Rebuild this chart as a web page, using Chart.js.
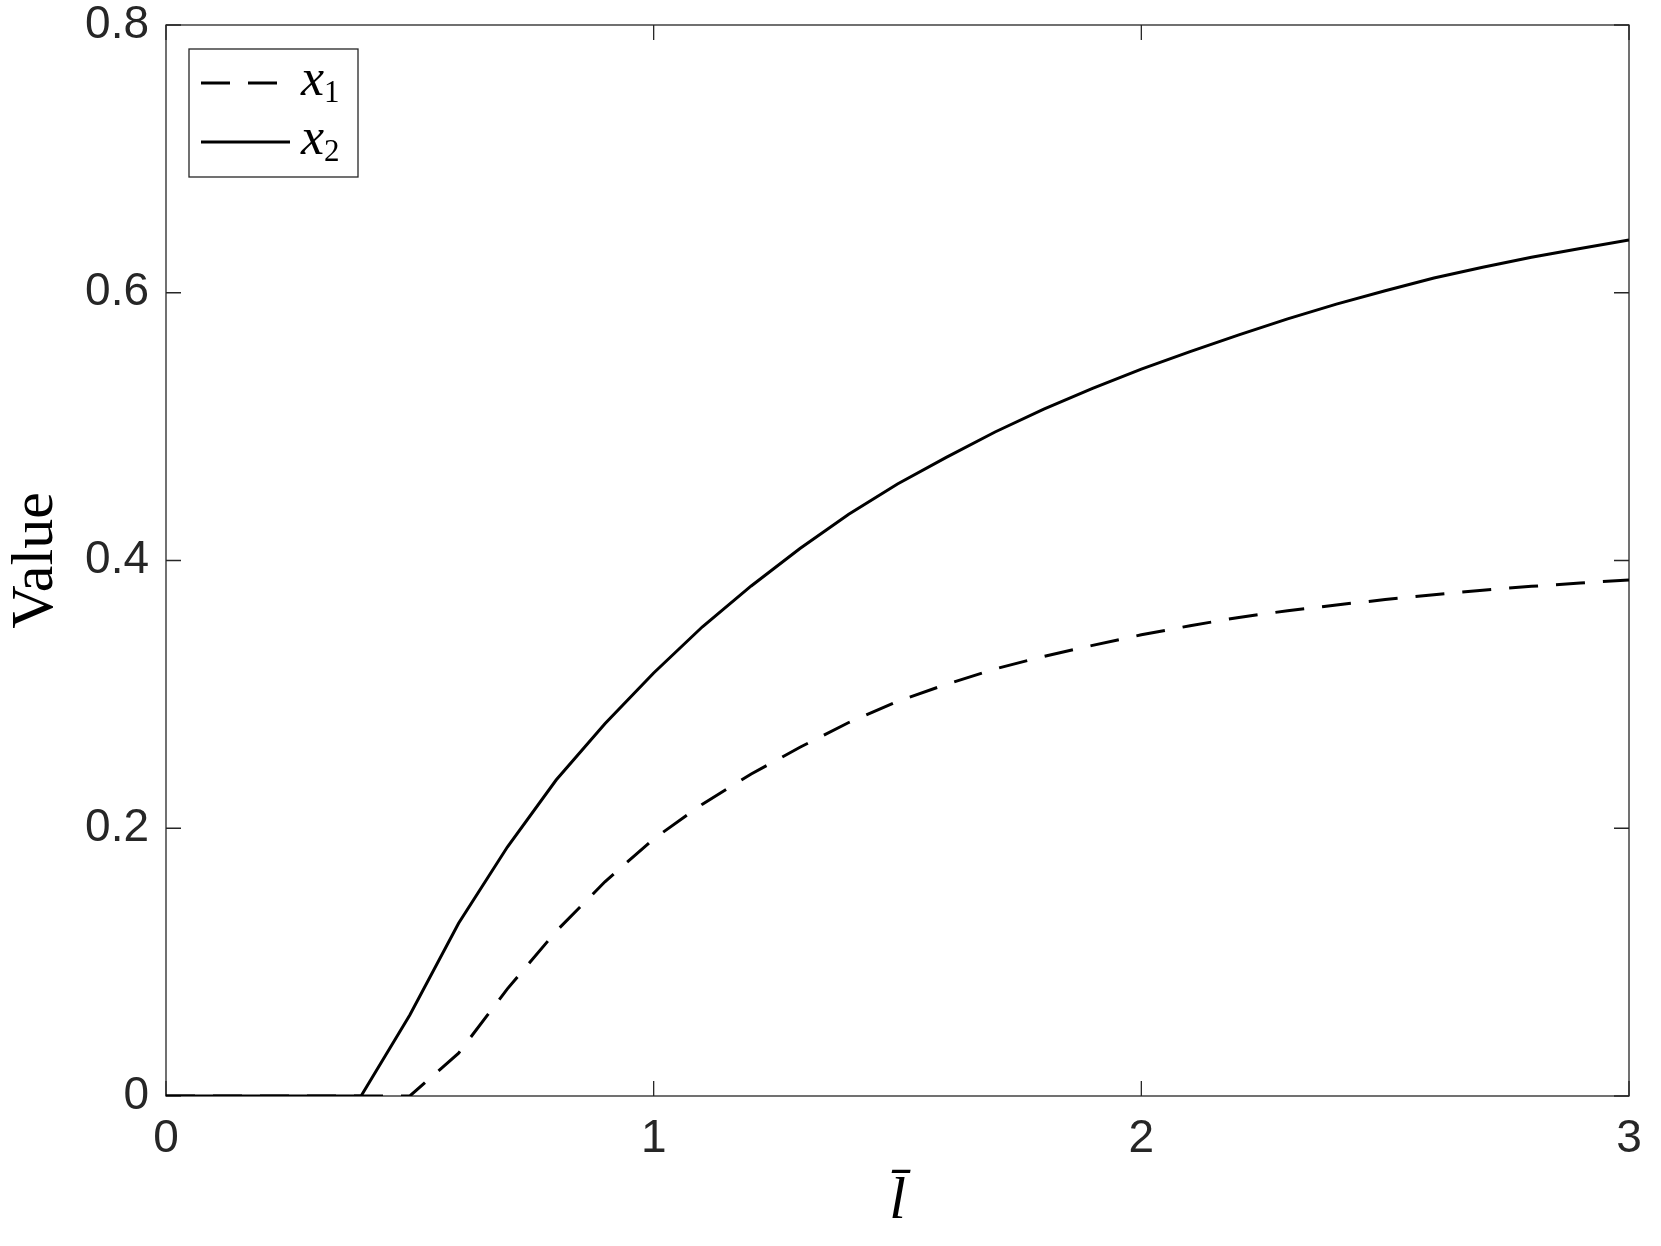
<!DOCTYPE html>
<html>
<head>
<meta charset="utf-8">
<script src="https://cdn.jsdelivr.net/npm/chart.js@4/dist/chart.umd.min.js"></script>
<style>
body { margin: 0; background: #fff; }
#wrap { width: 1661px; height: 1246px; }
</style>
</head>
<body>
<div id="wrap"><canvas id="myChart" width="1661" height="1246"></canvas></div>
<script>
// l-bar values along the x axis
var lbar = [0, 0.1, 0.2, 0.3, 0.4, 0.5, 0.6, 0.7, 0.8, 0.9, 1.0,
            1.1, 1.2, 1.3, 1.4, 1.5, 1.6, 1.7, 1.8, 1.9, 2.0,
            2.1, 2.2, 2.3, 2.4, 2.5, 2.6, 2.7, 2.8, 2.9, 3.0];
var x1 = [0, 0, 0, 0, 0, 0, 0.032, 0.080, 0.123, 0.160, 0.192,
          0.218, 0.2405, 0.2605, 0.279, 0.2948, 0.3075, 0.319, 0.3284, 0.3366, 0.3445,
          0.3513, 0.3575, 0.3625, 0.3668, 0.3708, 0.3745, 0.3778, 0.3807, 0.3832, 0.3854];
var x2 = [0, 0, 0, 0, 0, 0.0605, 0.129, 0.186, 0.236, 0.278, 0.316,
          0.3505, 0.381, 0.409, 0.4345, 0.4572, 0.477, 0.496, 0.513, 0.5285, 0.543,
          0.556, 0.5685, 0.5805, 0.5915, 0.6015, 0.611, 0.619, 0.6265, 0.633, 0.6394];
var xTicks = [0, 1, 2, 3];
var yTicks = [0, 0.2, 0.4, 0.6, 0.8];
var seriesNames = ['x', 'x'];
var seriesSubs = ['1', '2'];

function pts(ys) {
    return lbar.map(function (v, i) { return {x: v, y: ys[i]}; });
}

// box round the axes, ticks pointing inward on all four sides
var frame = {
    id: 'frame',
    beforeDatasetsDraw: function (chart) {
        var c = chart.ctx, a = chart.chartArea;
        var xs = chart.scales.x, ys = chart.scales.y;
        c.save();
        c.strokeStyle = '#262626';
        c.lineWidth = 1.3;
        c.strokeRect(a.left, a.top, a.right - a.left, a.bottom - a.top);
        c.beginPath();
        xs.ticks.forEach(function (t) {
            var px = xs.getPixelForValue(t.value);
            c.moveTo(px, a.bottom); c.lineTo(px, a.bottom - 15);
            c.moveTo(px, a.top); c.lineTo(px, a.top + 15);
        });
        ys.ticks.forEach(function (t) {
            var py = ys.getPixelForValue(t.value);
            c.moveTo(a.left, py); c.lineTo(a.left + 15, py);
            c.moveTo(a.right, py); c.lineTo(a.right - 15, py);
        });
        c.stroke();
        c.restore();
    }
};

// legend inside the plot, top left
var legendBox = {
    id: 'legendBox',
    afterDraw: function (chart) {
        var c = chart.ctx;
        c.save();
        c.fillStyle = '#fff';
        c.fillRect(189, 49, 169, 128);
        c.strokeStyle = '#262626';
        c.lineWidth = 1.3;
        c.strokeRect(189, 49, 169, 128);
        chart.data.datasets.forEach(function (ds, i) {
            var y = i === 0 ? 83 : 142;
            c.strokeStyle = ds.borderColor;
            c.lineWidth = ds.borderWidth;
            c.setLineDash(ds.borderDash || []);
            c.beginPath();
            c.moveTo(201, y);
            c.lineTo(290, y);
            c.stroke();
            c.setLineDash([]);
            c.fillStyle = '#000';
            c.textBaseline = 'alphabetic';
            c.font = 'italic 52px "Liberation Serif"';
            c.fillText(seriesNames[i], 301, y + 12);
            c.font = '31px "Liberation Serif"';
            c.fillText(seriesSubs[i], 324, y + 19);
        });
        c.restore();
    }
};

var ctx = document.getElementById('myChart').getContext('2d');
var myChart = new Chart(ctx, {
    type: 'line',
    data: {
        datasets: [{
            label: 'x1',
            data: pts(x1),
            borderColor: '#000',
            borderWidth: 3,
            borderDash: [29, 18],
            pointRadius: 0,
            tension: 0,
            fill: false
        }, {
            label: 'x2',
            data: pts(x2),
            borderColor: '#000',
            borderWidth: 3,
            pointRadius: 0,
            tension: 0,
            fill: false
        }]
    },
    options: {
        responsive: false,
        animation: false,
        layout: {
            padding: {top: 25, right: 32, left: 0, bottom: 0}
        },
        plugins: {
            legend: {display: false},
            tooltip: {enabled: false}
        },
        scales: {
            x: {
                type: 'linear',
                min: 0,
                max: 3,
                afterBuildTicks: function (s) {
                    s.ticks = xTicks.map(function (v) { return {value: v}; });
                },
                afterFit: function (s) {
                    s.height = 150;
                    s.paddingLeft = 0;
                    s.paddingRight = 0;
                },
                grid: {display: false, drawTicks: false},
                border: {display: false},
                ticks: {
                    color: '#262626',
                    padding: 20,
                    maxRotation: 0,
                    font: {family: '"Liberation Sans"', size: 46, lineHeight: 1}
                },
                title: {
                    display: true,
                    text: 'l\u0304',
                    color: '#000',
                    padding: {top: 0, bottom: 8},
                    font: {family: '"Liberation Serif"', style: 'italic', size: 60}
                }
            },
            y: {
                min: 0,
                max: 0.8,
                afterBuildTicks: function (s) {
                    s.ticks = yTicks.map(function (v) { return {value: v}; });
                },
                afterFit: function (s) {
                    s.width = 166;
                    s.paddingTop = 0;
                    s.paddingBottom = 0;
                },
                grid: {display: false, drawTicks: false},
                border: {display: false},
                ticks: {
                    color: '#262626',
                    padding: 17,
                    font: {family: '"Liberation Sans"', size: 46, lineHeight: 1}
                },
                title: {
                    display: true,
                    text: 'Value',
                    color: '#000',
                    padding: 0,
                    font: {family: '"Liberation Serif"', size: 60}
                }
            }
        }
    },
    plugins: [frame, legendBox]
});
</script>
</body>
</html>
